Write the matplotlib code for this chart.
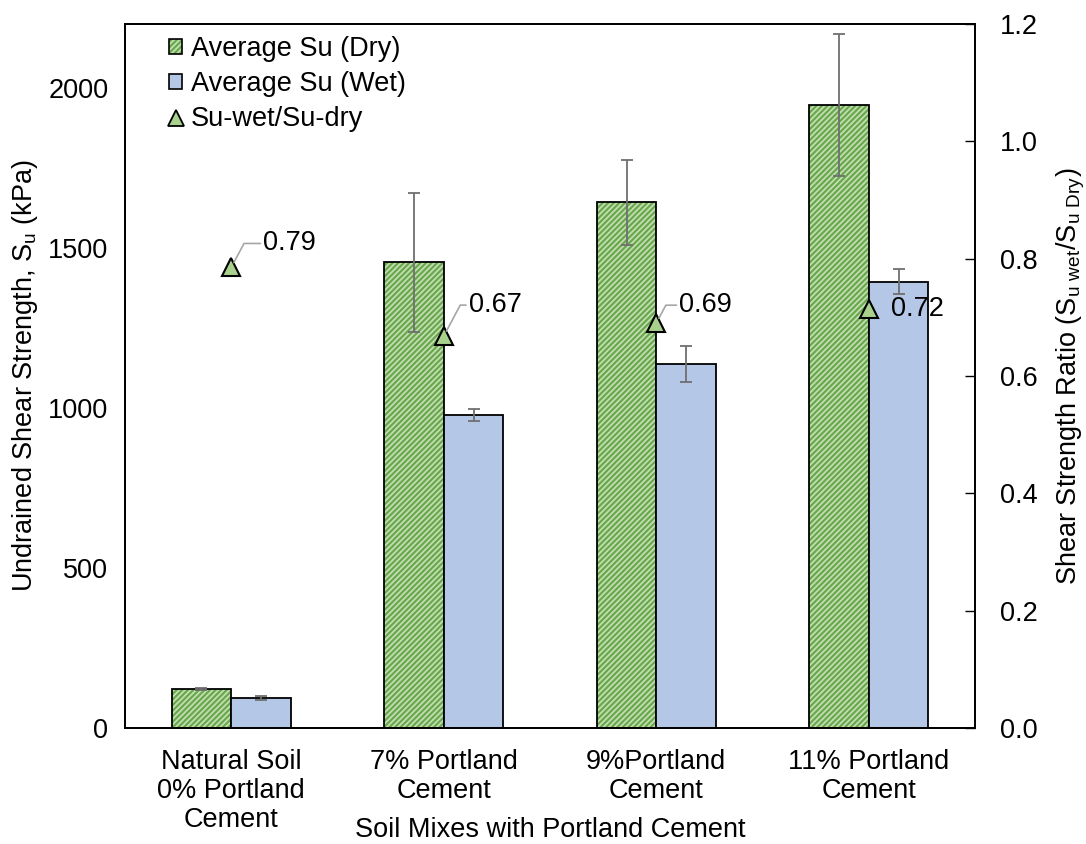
import matplotlib
matplotlib.use("Agg")
import numpy as np
import matplotlib.pyplot as plt
from matplotlib.patches import Patch
from matplotlib.lines import Line2D

plt.rcParams['font.family'] = ['Liberation Sans', 'DejaVu Sans']
plt.rcParams['mathtext.fontset'] = 'custom'
plt.rcParams['mathtext.rm'] = 'Liberation Sans'
plt.rcParams['hatch.linewidth'] = 1.6

# ---- data ----
categories = ["Natural Soil\n0% Portland\nCement", "7% Portland\nCement",
              "9%Portland\nCement", "11% Portland\nCement"]
su_dry = [123, 1455, 1643, 1947]
su_dry_err = [3, 218, 133, 222]
su_wet = [95, 978, 1137, 1394]
su_wet_err = [6, 20, 57, 39]
ratio = [0.785, 0.668, 0.69, 0.714]
ratio_labels = ["0.79", "0.67", "0.69", "0.72"]
# label offsets (pixels) from the marker, leader line on/off
label_off = [(32, 24), (25, 31), (23, 18), (22, 0)]
label_leader = [True, True, True, False]

# ---- style ----
dry_face = '#c5e0b3'
dry_hatch = '#6aa84f'
wet_face = '#b4c7e7'
tri_face = '#a9d18e'
err_col = '#6f6f6f'
fs = 19.5

fig = plt.figure(figsize=(10.86, 8.44), dpi=100)
ax = fig.add_axes([0.1151, 0.1374, 0.7827, 0.8342])
ax2 = ax.twinx()

x = np.arange(len(categories))
w = 0.28

# dry bars: hatch layer + black outline
ax.bar(x - w / 2, su_dry, w, color=dry_face, edgecolor=dry_hatch, hatch='//////',
       linewidth=0, zorder=2)
ax.bar(x - w / 2, su_dry, w, fill=False, edgecolor='black', linewidth=1.3, zorder=3)
ax.bar(x + w / 2, su_wet, w, color=wet_face, edgecolor='black', linewidth=1.3, zorder=3)

ax.errorbar(x - w / 2, su_dry, yerr=su_dry_err, fmt='none', ecolor=err_col,
            elinewidth=1.3, capsize=4, capthick=1.3, zorder=4)
ax.errorbar(x + w / 2, su_wet, yerr=su_wet_err, fmt='none', ecolor=err_col,
            elinewidth=1.3, capsize=4, capthick=1.3, zorder=4)

ax.set_xlim(-0.5, len(categories) - 0.5)
ax.set_ylim(0, 2200)
ax.set_yticks([0, 500, 1000, 1500, 2000])
ax.set_xticks(x)
ax.set_xticklabels(categories, fontsize=fs, linespacing=1.16)
ax.tick_params(axis='x', length=0, pad=15)
ax.tick_params(axis='y', length=0, pad=12, labelsize=fs)
ax.set_ylabel("Undrained Shear Strength, S$_\\mathregular{u}$ (kPa)", fontsize=fs, labelpad=6)
ax.set_xlabel("Soil Mixes with Portland Cement", fontsize=fs, labelpad=-12)

# ratio on secondary axis
ax2.plot(x, ratio, linestyle='none', marker='^', markersize=13,
         markerfacecolor=tri_face, markeredgecolor='black', markeredgewidth=1.5, zorder=5)
ax2.set_ylim(0, 1.2)
ax2.set_yticks(np.arange(0, 1.21, 0.2))
ax2.set_yticklabels([f"{v:.1f}" for v in np.arange(0, 1.21, 0.2)])
ax2.tick_params(axis='y', direction='in', length=7, width=1, pad=18, labelsize=fs)
ax2.set_ylabel("Shear Strength Ratio (S$_\\mathregular{u\\ wet}$/S$_\\mathregular{u\\ Dry}$)",
               fontsize=fs, labelpad=12)

for xi, r, lab, off, lead in zip(x, ratio, ratio_labels, label_off, label_leader):
    props = None
    if lead:
        props = dict(arrowstyle='-', color='#a6a6a6', lw=1.2, shrinkA=0, shrinkB=4,
                     relpos=(0, 0.5), connectionstyle='angle,angleA=0,angleB=62,rad=0')
    ax2.annotate(lab, xy=(xi, r), xytext=off, textcoords='offset pixels',
                 fontsize=fs, ha='left', va='center', arrowprops=props, zorder=6)

for a in (ax, ax2):
    for s in a.spines.values():
        s.set_linewidth(1.3)
        s.set_color('black')

handles = [(Patch(facecolor=dry_face, edgecolor=dry_hatch, hatch='//////', linewidth=0),
            Patch(fill=False, edgecolor='black', linewidth=1.2)),
           Patch(facecolor=wet_face, edgecolor='black', linewidth=1.2),
           Line2D([], [], linestyle='none', marker='^', markersize=12,
                  markerfacecolor=tri_face, markeredgecolor='black', markeredgewidth=1.3)]
labels = ["Average Su (Dry)", "Average Su (Wet)", "Su-wet/Su-dry"]
ax2.legend(handles, labels, loc='upper left', bbox_to_anchor=(0.023, 1.017), frameon=False,
           fontsize=fs, handlelength=0.5, handleheight=0.5, handletextpad=0.3,
           labelspacing=0.33)

fig.savefig("out.png", dpi=100)
